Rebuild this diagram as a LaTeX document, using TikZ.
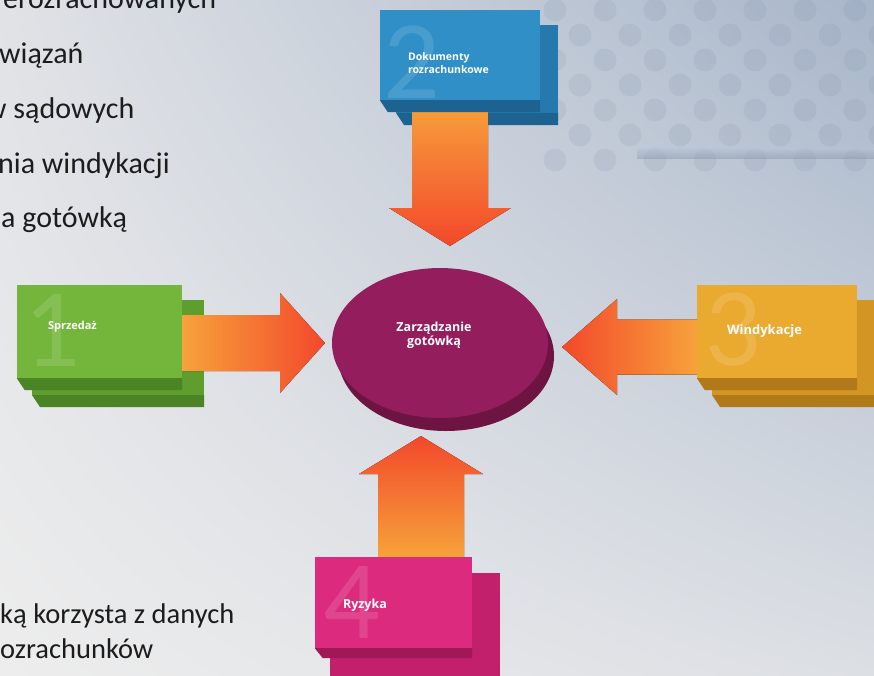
\documentclass[tikz,border=0pt]{standalone}
\usepackage{fontspec}
\setmainfont{Carlito}
\newfontfamily\lblfont{Open Sans}
\usetikzlibrary{positioning,calc,shapes.geometric,shadings}
\pgfdeclarelayer{bg}
\pgfsetlayers{bg,main}

\definecolor{bgUL}{HTML}{E0E2E6}
\definecolor{bgUR}{HTML}{A8B6CA}
\definecolor{bgLL}{HTML}{EDEDED}
\definecolor{bgLR}{HTML}{DCDFE4}
\definecolor{dotcol}{HTML}{7F8EA6}
\definecolor{bandTop}{HTML}{B9C4D4}
\definecolor{bandBot}{HTML}{8E9CB2}
\definecolor{txtDark}{HTML}{1C1C1C}
\definecolor{grFace}{HTML}{74B63B}
\definecolor{grBack}{HTML}{5F9D2E}
\definecolor{grSide}{HTML}{4B8424}
\definecolor{blFace}{HTML}{2F8FC6}
\definecolor{blBack}{HTML}{2679AD}
\definecolor{blSide}{HTML}{1C6391}
\definecolor{yeFace}{HTML}{EAA92F}
\definecolor{yeBack}{HTML}{D39524}
\definecolor{yeSide}{HTML}{B07A18}
\definecolor{pkFace}{HTML}{DC2B7E}
\definecolor{pkBack}{HTML}{C21F6C}
\definecolor{pkSide}{HTML}{A01858}
\definecolor{discFace}{HTML}{931D5D}
\definecolor{discSide}{HTML}{6E1442}
\definecolor{arrOr}{HTML}{F7A23B}
\definecolor{arrRd}{HTML}{F3482B}

% back slab: x1,y1,x2,y2,face,side
\newcommand\slab[6]{%
  \fill[#5] (#1,#2) rectangle (#3,#4);
  \fill[#6] (#1,#4) -- (#3,#4) -- (#3,#4+12) -- (#1+8,#4+12) -- cycle;}
% block arrows: tail, tip, half shaft, half head, head length, shading
\newcommand\harrow[6]{%
  \fill[#6] let \p1=(#1), \p2=(#2), \p3=($(#2)!#5!(#2 -| #1)$) in
    (\x1,\y2+#3) -- (\x3,\y2+#3) -- (\x3,\y2+#4) -- (\x2,\y2)
    -- (\x3,\y2-#4) -- (\x3,\y2-#3) -- (\x1,\y2-#3) -- cycle;}
\newcommand\varrow[6]{%
  \fill[#6] let \p1=(#1), \p2=(#2), \p3=($(#2)!#5!(#2 |- #1)$) in
    (\x2+#3,\y1) -- (\x2+#3,\y3) -- (\x2+#4,\y3) -- (\x2,\y2)
    -- (\x2-#4,\y3) -- (\x2-#3,\y3) -- (\x2-#3,\y1) -- cycle;}

\begin{document}
\begin{tikzpicture}[x=1pt,y=-1pt,
  boxface/.style={rectangle, inner sep=0pt, draw=none},
  lbl/.style={anchor=west, text=white, align=left, inner sep=0pt},
  bignum/.style={text=white, text opacity=.13, font=\fontsize{112}{112}\selectfont, inner sep=0pt},
  lefttxt/.style={anchor=base west, text=txtDark, font=\fontsize{30}{35}\selectfont, inner sep=0pt},
  disc/.style={ellipse, fill=discFace, inner sep=0pt, minimum width=216pt, minimum height=150pt}]
\useasboundingbox (0,0) rectangle (874,675);

\begin{pgfonlayer}{bg}
  \shade[upper left=bgUL, upper right=bgUR, lower left=bgLL, lower right=bgLR] (0,0) rectangle (874,675);
  \foreach \i in {0,...,13}{\foreach \j in {0,...,6}{%
    \ifodd\numexpr\i+\j\relax\else\fill[dotcol, opacity=.15] (555+25*\i,10+25*\j) circle (11.5);\fi}}
  \shade[top color=bandTop, bottom color=bandBot, opacity=.5] (637,148) rectangle (874,158);
  % back slabs
  \slab{32}{300}{204}{395}{grBack}{grSide}
  \slab{396}{25}{558}{113}{blBack}{blSide}
  \slab{712}{300}{882}{395}{yeBack}{yeSide}
  \slab{330}{573}{500}{690}{pkBack}{pkSide}
  \fill[discSide] (446,356) ellipse (108 and 75);
\end{pgfonlayer}

% front faces
\node[boxface, fill=grFace, minimum width=165pt, minimum height=93pt] (sprz) at (99.5,331.5) {};
\node[boxface, fill=blFace, minimum width=160pt, minimum height=90pt] (dok) at (460,55) {};
\node[boxface, fill=yeFace, minimum width=160pt, minimum height=93pt] (wind) at (777,331.5) {};
\node[boxface, fill=pkFace, minimum width=157pt, minimum height=91pt] (ryz) at (393.5,602.5) {};
\node[disc] (zarz) at (440,343) {};

\fill[grSide] (sprz.south west) -- (sprz.south east) -- ([yshift=-12pt]sprz.south east) -- ([xshift=8pt,yshift=-12pt]sprz.south west) -- cycle;
\fill[blSide] (dok.south west) -- (dok.south east) -- ([yshift=-12pt]dok.south east) -- ([xshift=8pt,yshift=-12pt]dok.south west) -- cycle;
\fill[yeSide] (wind.south west) -- (wind.south east) -- ([yshift=-12pt]wind.south east) -- ([xshift=8pt,yshift=-12pt]wind.south west) -- cycle;
\fill[pkSide] (ryz.south west) -- (ryz.south east) -- ([yshift=-10pt]ryz.south east) -- ([xshift=8pt,yshift=-10pt]ryz.south west) -- cycle;

% big numbers
\node[bignum] (num1) at (52,330) {1};
\node[bignum] (num2) at (412,62) {2};
\node[bignum] (num3) at (733,330) {3};
\node[bignum] (num4) at (352,603) {4};

% labels
\node[lbl, font=\lblfont\bfseries\fontsize{10.5}{13}\selectfont] (dokTxt) at ([xshift=28pt,yshift=-8.5pt]dok.west) {Dokumenty\\rozrachunkowe};
\node[lbl, font=\lblfont\bfseries\fontsize{11}{13}\selectfont] (sprzTxt) at ([xshift=31pt,yshift=4.5pt]sprz.west) {Sprzedaż};
\node[lbl, font=\lblfont\bfseries\fontsize{13}{15}\selectfont] (windTxt) at ([xshift=30pt]wind.west) {Windykacje};
\node[lbl, font=\lblfont\bfseries\fontsize{12.5}{15}\selectfont] (ryzTxt) at ([xshift=28pt,yshift=-2.5pt]ryz.west) {Ryzyka};
\node[text=white, align=center, inner sep=0pt, font=\lblfont\bfseries\fontsize{12.5}{14}\selectfont] (zarzTxt) at ([xshift=-6pt,yshift=8pt]zarz.center) {Zarządzanie\\gotówką};

% arrows
\coordinate (tipS) at (325,343);
\coordinate (tipW) at (562,347);
\coordinate (tipD) at (450,246);
\coordinate (tipR) at (421,436);
\begin{pgfonlayer}{bg}
  \harrow{sprz.east}{tipS}{28pt}{50pt}{45pt}{left color=arrOr, right color=arrRd}
  \harrow{wind.west}{tipW}{27.5pt}{48pt}{55pt}{left color=arrRd, right color=arrOr}
  \varrow{dok.south}{tipD}{38pt}{61pt}{38pt}{top color=arrOr, bottom color=arrRd}
  \varrow{ryz.north}{tipR}{43pt}{62pt}{38pt}{top color=arrRd, bottom color=arrOr}
\end{pgfonlayer}

% text on the left
\node[lefttxt] (t1) at (3,8) {erozrachowanych};
\node[lefttxt] (t2) at (-1,63) {wiązań};
\node[lefttxt] (t3) at (-15,118) {w sądowych};
\node[lefttxt] (t4) at (-2,173) {nia windykacji};
\node[lefttxt] (t5) at (1,227) {a gotówką};
\node[lefttxt, font=\fontsize{28.5}{33}\selectfont] (t6) at (0,623) {ką korzysta z danych};
\node[lefttxt, font=\fontsize{28.5}{33}\selectfont] (t7) at (0,658) {ozrachunków};
\end{tikzpicture}
\end{document}
